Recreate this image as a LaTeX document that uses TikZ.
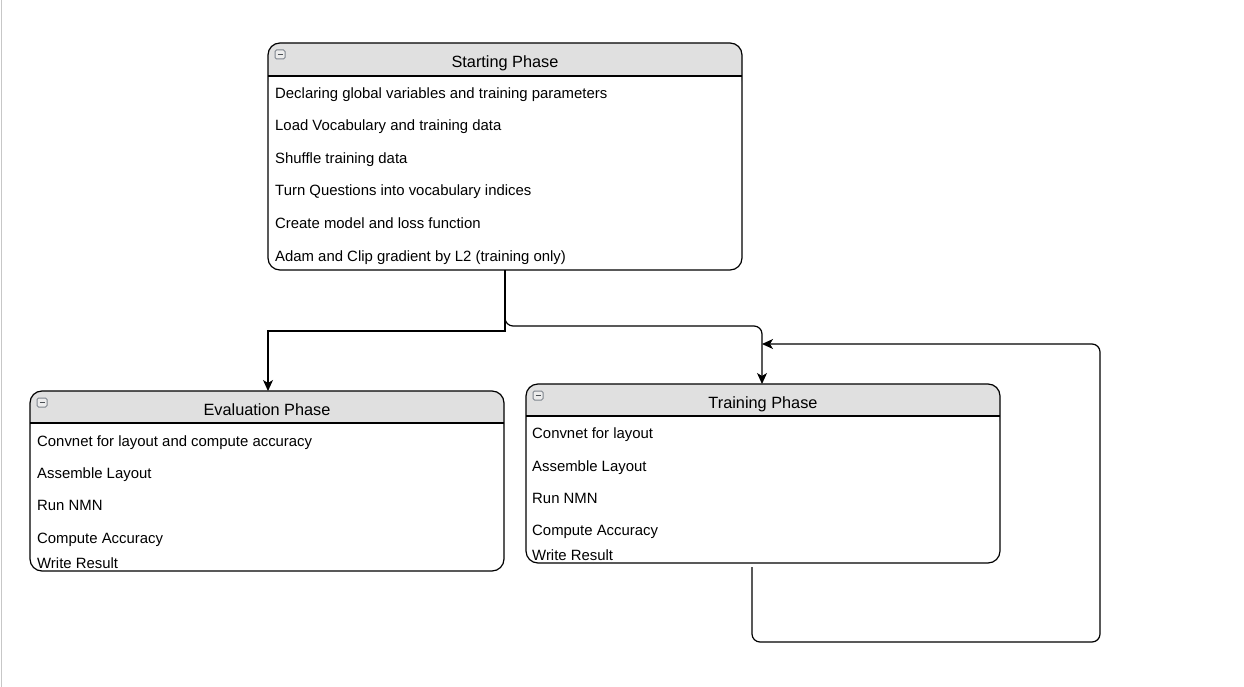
\documentclass[tikz,border=0pt]{standalone}
\usepackage{fontspec}
\setmainfont{Liberation Sans}
\usetikzlibrary{arrows.meta}
\definecolor{hdr}{HTML}{E0E0E0}
\definecolor{iconc}{HTML}{7E858E}
\tikzset{
  rowtext/.style={anchor=base west, inner sep=0pt, font=\fontsize{14.9}{16}\selectfont, text=black},
  titletext/.style={anchor=base, inner sep=0pt, font=\fontsize{16.3}{18}\selectfont, text=black},
  boxline/.style={draw=black, line width=1.2pt},
  conn/.style={draw=black, line width=1.2pt},
  tip/.style={-{Stealth[length=11pt,width=10pt,inset=3pt]}},
  icon/.style={draw=iconc, fill=hdr!60!white, line width=1pt, rounded corners=1.5pt},
}
\newcommand{\phasebox}[7]{%
  % #1 name, #2 x0, #3 y0, #4 x1, #5 y1, #6 header y, #7 title
  \fill[hdr, rounded corners=10pt] (#2,#3) rectangle (#4,#6+12);
  \fill[hdr] (#2,#6) rectangle (#4,#6-12);
  \fill[white] (#2+0.6,#6) rectangle (#4-0.6,#6+13);
  \draw[boxline, rounded corners=12pt] (#2,#3) rectangle (#4,#5);
  \draw[boxline] (#2,#6) -- (#4,#6);
  \node[minimum width=#4-#2, minimum height=#5-#3, inner sep=0pt] (#1) at ({(#2+#4)/2},{(#3+#5)/2}) {};
  \node[titletext] (#1title) at ({(#2+#4)/2},{(#3+#6)/2+8}) {#7};
  \draw[icon] (#2+7,#3+7) rectangle (#2+17,#3+16);
  \draw[iconc!60!black, line width=1pt] (#2+9.5,#3+11.5) -- (#2+14.5,#3+11.5);
}
\begin{document}
\begin{tikzpicture}[x=1pt,y=-1pt]
\useasboundingbox (0,0) rectangle (1244,687);
\fill[white] (0,0) rectangle (1244,687);
\draw[black!22, line width=1pt] (1,0) -- (1,687);

% Starting Phase
\phasebox{start}{268}{43}{742}{270}{76}{Starting Phase}
\node[rowtext] (s1) at (275,99) {Declaring global variables and training parameters};
\node[rowtext] (s2) at (275,131) {Load Vocabulary and training data};
\node[rowtext] (s3) at (275,164) {Shuffle training data};
\node[rowtext] (s4) at (275,196) {Turn Questions into vocabulary indices};
\node[rowtext] (s5) at (275,228) {Create model and loss function};
\node[rowtext] (s6) at (275,261) {Adam and Clip gradient by L2 (training only)};

% Evaluation Phase
\phasebox{eval}{30}{391}{504}{571}{423}{Evaluation Phase}
\node[rowtext] (e1) at (37,446) {Convnet for layout and compute accuracy};
\node[rowtext] (e2) at (37,478) {Assemble Layout};
\node[rowtext] (e3) at (37,510) {Run NMN};
\node[rowtext] (e4) at (37,543) {Compute Accuracy};
\node[rowtext] (e5) at (37,568) {Write Result};

% Training Phase
\phasebox{train}{526}{384}{1000}{563}{416}{Training Phase}
\node[rowtext] (t1) at (532,438) {Convnet for layout};
\node[rowtext] (t2) at (532,471) {Assemble Layout};
\node[rowtext] (t3) at (532,503) {Run NMN};
\node[rowtext] (t4) at (532,535) {Compute Accuracy};
\node[rowtext] (t5) at (532,560) {Write Result};

% connectors
\coordinate (sb) at (505,270);
\coordinate (loopstart) at (752,567);
\coordinate (loopend) at (762,344);
\draw[conn, tip] (sb) -- (505,331) -- (268,331) -- (268,391);
\draw[conn, tip, rounded corners=8pt] (sb) -- (505,326) -- (762,326) -- (762,384);
\draw[conn, tip, rounded corners=8pt] (loopstart) -- (752,642) -- (1100,642) -- (1100,344) -- (loopend);
\end{tikzpicture}
\end{document}
